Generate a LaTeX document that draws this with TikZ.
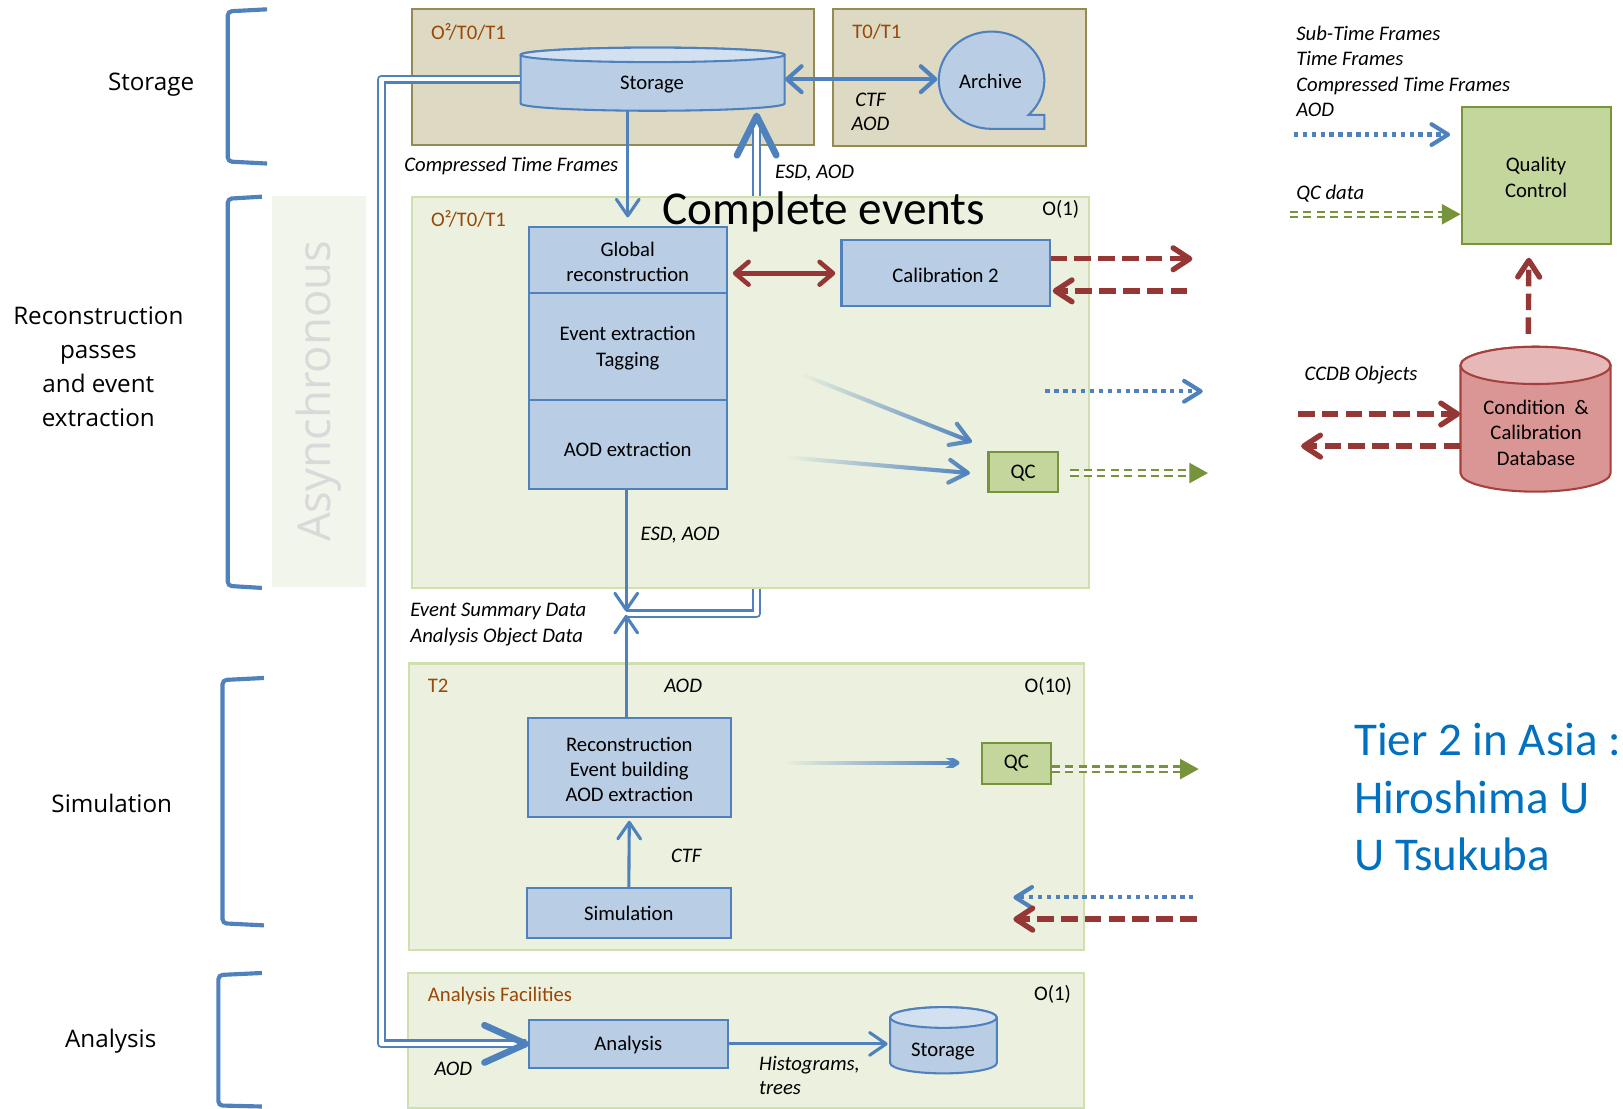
\documentclass[tikz,border=0pt]{standalone}
\usepackage{fontspec}
\setmainfont{Carlito}
\newfontfamily\sidefont{Open Sans}
\usetikzlibrary{arrows.meta,fit,fadings,calc}

\definecolor{lineblue}{HTML}{4F81BD}
\definecolor{boxblue}{HTML}{B9CDE5}
\definecolor{drumtop}{HTML}{D3E0F0}
\definecolor{sandfill}{HTML}{DDD9C3}
\definecolor{sanddraw}{HTML}{948A54}
\definecolor{sitefill}{HTML}{EBF1DE}
\definecolor{sitedraw}{HTML}{CFE0AE}
\definecolor{qcfill}{HTML}{C3D69B}
\definecolor{qcdraw}{HTML}{77933C}
\definecolor{darkred}{HTML}{953735}
\definecolor{dbfill}{HTML}{D99694}
\definecolor{dbtop}{HTML}{E6B9B8}
\definecolor{dbdraw}{HTML}{A5403D}
\definecolor{tierlabel}{HTML}{984807}
\definecolor{tierblue}{HTML}{0070C0}
\definecolor{asyncfill}{HTML}{F2F5EB}
\definecolor{asynctext}{HTML}{D9D9D9}

\tikzfading[name=fadein, left color=transparent!100, middle color=transparent!12, right color=transparent!0]

\newcommand\setfs[2]{\fontsize{#1}{#2}\selectfont}
% vertical drum: left x, right x, top y, bottom y, ellipse radius, body fill, lid fill, outline
\newcommand\drumshape[8]{%
  \path[draw=#8, fill=#6, line width=1pt] (#1,#3+#5) -- (#1,#4-#5)
    arc[start angle=180, end angle=0, x radius={(#2-#1)/2}, y radius=#5]
    -- (#2,#3+#5)
    arc[start angle=0, end angle=-180, x radius={(#2-#1)/2}, y radius=#5] -- cycle;
  \path[draw=#8, fill=#7, line width=1pt] ({(#1+#2)/2},#3+#5)
    ellipse[x radius={(#2-#1)/2}, y radius=#5];
}

\tikzset{
  site/.style={draw=sitedraw, fill=sitefill, line width=1pt, inner sep=0pt},
  sand/.style={draw=sanddraw, fill=sandfill, line width=1pt, inner sep=0pt},
  plain/.style={inner sep=0pt, align=center, font=\setfs{10}{12.2}, yshift=-0.9pt},
  blk/.style={draw=lineblue, fill=boxblue, line width=1pt, inner sep=0pt},
  qcbox/.style={draw=qcdraw, fill=qcfill, line width=1pt, inner sep=0pt},
  hold/.style={inner sep=0pt},
  tag/.style={inner sep=0pt, anchor=west, text=tierlabel, font=\setfs{10}{12}},
  order/.style={inner sep=0pt, anchor=east, font=\setfs{10}{12}},
  note/.style={inner sep=0pt, align=left, font=\setfs{10}{12.3}\itshape},
  side/.style={inner sep=0pt, align=center, font=\sidefont\setfs{11.7}{16.4}},
  bracket/.style={draw=lineblue, line width=2pt, rounded corners=2pt},
  flow/.style={draw=lineblue, line width=1.5pt, -{Straight Barb[length=8pt, width=11pt, round]}},
  wideflow/.style={draw=lineblue, line width=2pt, {Straight Barb[length=7pt, width=12.5pt, round]}-{Straight Barb[length=7pt, width=12.5pt, round]}},
  fadeflow/.style={draw=lineblue, line width=2pt, path fading=fadein, -{Straight Barb[length=9pt, width=11pt, round]}},
  calflow/.style={draw=darkred, line width=2.2pt, {Straight Barb[length=6.5pt, width=11pt, round]}-{Straight Barb[length=6.5pt, width=11pt, round]}},
  reddash/.style={draw=darkred, line width=2.6pt, dash pattern=on 8pt off 3.5pt, -{Straight Barb[length=8pt, width=10.5pt, round]}},
  bluedot/.style={draw=lineblue, line width=2pt, dash pattern=on 2.1pt off 2.2pt, -{Straight Barb[length=8pt, width=10pt, round]}},
  qcline/.style={draw=qcdraw, line width=1pt, double=#1, double distance=1.5pt, dash pattern=on 4pt off 2.5pt},
  qcline/.default=white,
  qchead/.style={fill=qcdraw},
  dbl/.style={draw=lineblue, line width=1.1pt, double=white, double distance=2.1pt, line join=round},
  bighead/.style={draw=lineblue, line width=3.2pt, line cap=round, line join=round},
}

\begin{document}
\begin{tikzpicture}[x=0.5pt, y=-0.5pt]
\useasboundingbox (0,0) rectangle (1568,1071);
\fill[white] (0,0) rectangle (1568,1071);

% asynchronous band
\fill[asyncfill] (263,189) rectangle (354,567);
\node[rotate=90, text=asynctext, font=\sidefont\setfs{22}{22}, inner sep=0pt] (async) at (308,378) {Asynchronous};

% phase brackets and their captions
\draw[bracket] (258,9) -- (220,11) -- (220,156) -- (258,158);
\draw[bracket] (253,190) -- (220,192) -- (220,566) -- (253,568);
\draw[bracket] (255,655) -- (215,657) -- (215,892) -- (255,894);
\draw[bracket] (253,940) -- (211,942) -- (211,1068) -- (253,1069);
\node[side] (lstore) at (146,82) {Storage};
\node[side] (lreco) at (95,354) {Reconstruction\\passes\\and event\\extraction};
\node[side] (lsim) at (108,776) {Simulation};
\node[side] (lana) at (107,1006) {Analysis};

% storage sites
\node[sand, fit={(398,9)(786,140)}] (storsite) {};
\node[sand, fit={(805,9)(1049,141)}] (archsite) {};

% ESD/AOD return path to storage (runs behind the reconstruction site)
\coordinate (jn) at (605,593);
\coordinate (esdtip) at (731,112);
\draw[dbl] (jn) -| ([yshift=-2pt]esdtip);

% computing sites
\node[site, fit={(398,190)(1052,568)}] (recosite) {};
\node[site, fit={(395,641)(1047,918)}] (simsite) {};
\node[site, fit={(394,940)(1047,1070)}] (anasite) {};

\draw[bighead] ($(esdtip)+(-19,38)$) -- (esdtip) -- ($(esdtip)+(19,38)$);

% storage drum and archive
\drumshape{503}{758}{46}{107}{7}{boxblue}{drumtop}{lineblue}
\node[hold, fit={(503,46)(758,107)}] (stor) {};
\node[plain] (stortext) at (630,80) {Storage};
\draw[draw=lineblue, fill=boxblue, line width=1pt] (993.7,111)
  arc[start angle=45.5, end angle=-270, x radius=51, y radius=47]
  -- (1009,124.5) -- (1009,111) -- cycle;
\node[plain, circle, minimum size=51pt] (arch) at (957,76.5) {Archive};

% reconstruction chain
\node[blk, fit={(511,219)(702,283)}] (glob) {};
\node[plain] (globtext) at (glob.center) {Global\\reconstruction};
\node[blk, fit={(511,283)(702,386)}] (evex) {};
\node[plain] (evextext) at (evex.center) {Event extraction\\Tagging};
\node[blk, fit={(511,386)(702,472)}] (aodx) {};
\node[plain] (aodxtext) at ([yshift=-1.5pt]aodx.center) {AOD extraction};
\node[blk, fit={(813,232)(1014,296)}] (calib) {};
\node[plain] (calibtext) at (calib.center) {Calibration 2};
\node[qcbox, fit={(955,437)(1022,475)}] (qc1) {};
\node[plain] (qc1text) at ([yshift=0.5pt]qc1.center) {QC};

% simulation chain
\node[blk, fit={(510,694)(706,789)}] (reco) {};
\node[plain] (recotext) at (reco.center) {Reconstruction\\Event building\\AOD extraction};
\node[blk, fit={(509,858)(706,906)}] (simu) {};
\node[plain] (simutext) at ([yshift=0.5pt]simu.center) {Simulation};
\node[qcbox, fit={(949,718)(1015,757)}] (qc2) {};
\node[plain] (qc2text) at ([yshift=1pt]qc2.center) {QC};

% analysis
\node[blk, fit={(511,985)(703,1032)}] (ana) {};
\node[plain] (anatext) at ([yshift=0.5pt]ana.center) {Analysis};
\drumshape{860}{963}{973}{1037}{10}{boxblue}{drumtop}{lineblue}
\node[hold, fit={(860,973)(963,1037)}] (stor2) {};
\node[plain] (stor2text) at (911,1014) {Storage};

% quality control and condition database
\node[qcbox, fit={(1412,103)(1556,236)}] (qcmain) {};
\node[plain, font=\setfs{10}{12.4}] (qcmaintext) at (qcmain.center) {Quality\\Control};
\drumshape{1411}{1556}{335}{475}{18}{dbfill}{dbtop}{dbdraw}
\node[hold, fit={(1411,335)(1556,475)}] (ccdb) {};
\node[plain, font=\setfs{10}{12.3}] (ccdbtext) at (1484,416) {Condition\ \ \&\\Calibration\\Database};

% data flow
\draw[wideflow] (stor.east) -- (stor.east -| arch.west);
\draw[flow] (stor.south -| glob.north) -- ([yshift=4pt]glob.north);
\draw[calflow, shorten <=2.5pt, shorten >=2.5pt] (glob.east |- calib.west) -- (calib.west);
\coordinate (calout) at (1152,250);
\coordinate (calin) at (1147,281);
\draw[reddash] (calout -| calib.east) -- (calout);
\draw[reddash] (calin) -- ($(calin -| calib.east)+(2,0)$);

\coordinate (g1) at (775,362);
\coordinate (g2) at (762,442);
\coordinate (g3) at (760,737);
\draw[fadeflow] (g1) -- ($(qc1.north west)+(-15,-9)$);
\draw[fadeflow] (g2) -- ($(qc1.west)+(-17,1)$);
\draw[fadeflow] (g3) -- ($(qc2.west)+(-21,-0.5)$);

\coordinate (dotA) at (1010,378);
\coordinate (dotB) at (1162,378);
\draw[bluedot] (dotA) -- (dotB);

\coordinate (qcoutA) at (1167,457);
\draw[qcline] ($(qc1.east |- qcoutA)+(11,0)$) -- ($(qcoutA)+(-16,0)$);
\fill[qchead] (qcoutA) -- ++(-18,-10) -- ++(0,20) -- cycle;
\coordinate (qcoutB) at (1158,743);
\draw[qcline] (qcoutB -| qc2.east) -- ($(qcoutB)+(-16,0)$);
\fill[qchead] (qcoutB) -- ++(-18,-10) -- ++(0,20) -- cycle;

\draw[flow] (aodx.south -| jn) -- ([yshift=1.2pt]jn);
\draw[flow] (reco.north -| jn) -- ([yshift=-0.5pt]jn);
\draw[flow, shorten >=1.5pt] (simu.north) -- (reco.south);

\coordinate (simdotin) at (1153,867);
\coordinate (simdotend) at (979,867);
\coordinate (simredin) at (1156,888);
\coordinate (simredend) at (979,888);
\draw[bluedot] (simdotin) -- (simdotend);
\draw[reddash] (simredin) -- (simredend);

\draw[flow, shorten >=1pt] (ana.east) -- (ana.east -| stor2.west);

% AOD feed from storage to the analysis facilities
\draw[dbl] (stor.west) -- ++(-134,0) |- ($(ana.west)+(-2,0)$);
\draw[bighead] ($(ana.west)+(-42,-18)$) -- ($(ana.west)+(-2,0)$) -- ($(ana.west)+(-42,18)$);

% legend flows
\coordinate (lgA) at (1250,130);
\coordinate (lgB) at (1246,207);
\draw[bluedot] (lgA) -- ($(lgA -| qcmain.west)+(-10,0)$);
\draw[qcline] (lgB) -- ($(lgB -| qcmain.west)+(-18,0)$);
\fill[qchead] (lgB -| qcmain.west) -- ++(-18,-10) -- ++(0,20) -- cycle;
\draw[reddash] ($(ccdb.north)+(-7,-12)$) -- ($(qcmain.south)+(-7,12)$);
\coordinate (ccin) at (1254,400);
\coordinate (ccout) at (1257,431);
\draw[reddash] (ccin) -- (ccin -| ccdb.west);
\draw[reddash] (ccout -| ccdb.west) -- (ccout);

% site captions
\node[tag] (t1) at (416,31) {O²/T0/T1};
\node[tag] (t2) at (823,31) {T0/T1};
\node[tag] (t3) at (416,212) {O²/T0/T1};
\node[tag] (t4) at (413,663) {T2};
\node[tag] (t5) at (413,962) {Analysis Facilities};
\node[order] (o1) at (1043,202) {O(1)};
\node[order] (o2) at (1036,663) {O(10)};
\node[order] (o3) at (1035,961) {O(1)};
\node[anchor=base, font=\setfs{22.8}{24}, inner sep=0pt] (complete) at (796,217) {Complete events};

% flow annotations
\node[note, align=center, font=\setfs{10}{11.5}\itshape] (ctfaod) at (841,108) {CTF\\AOD};
\node[note] (ctf1) at (494,160) {Compressed Time Frames};
\node[note] (esd1) at (787,167) {ESD, AOD};
\node[note] (esd2) at (657,517) {ESD, AOD};
\node[note, anchor=west, font=\setfs{10}{12.5}\itshape] (esdaod) at (396,603) {Event Summary Data\\Analysis Object Data};
\node[note] (aod1) at (660,663) {AOD};
\node[note] (ctf2) at (663,827) {CTF};
\node[note] (aod2) at (438,1033) {AOD};
\node[note, anchor=west, font=\setfs{10}{12}\itshape] (histo) at (733,1039) {Histograms,\\trees};
\node[note, anchor=west, font=\setfs{10}{12.35}\itshape] (lgtxt) at (1252,69) {Sub-Time Frames\\Time Frames\\Compressed Time Frames\\AOD};
\node[note, anchor=west] (qcdata) at (1252,187) {QC data};
\node[note, anchor=west] (ccdbobj) at (1260,362) {CCDB Objects};

% site note
\node[anchor=west, align=left, text=tierblue, font=\setfs{22.7}{28}, inner sep=0pt] (tier) at (1308,770) {Tier 2 in Asia :\\Hiroshima U\\U Tsukuba};
\end{tikzpicture}
\end{document}
